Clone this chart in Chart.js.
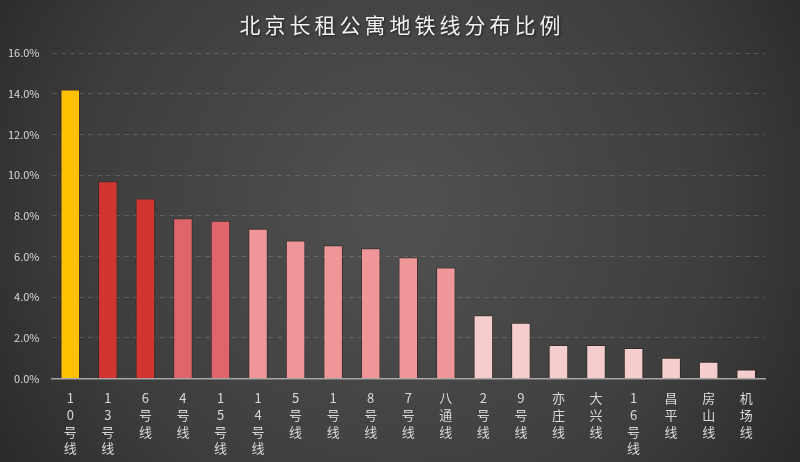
<!DOCTYPE html>
<html lang="zh-CN">
  <head>
    <meta charset="UTF-8" />
    <title>北京长租公寓地铁线分布比例</title>
    <script src="https://cdn.jsdelivr.net/npm/chart.js"></script>
    <style>
      html, body { margin: 0; padding: 0; background: #333; }
      #wrap { width: 800px; height: 462px; }
    </style>
  </head>
  <body>
    <div id="wrap"><canvas id="myChart"></canvas></div>
    <script>
      var chartTitle = "北京长租公寓地铁线分布比例";
      var lines = ["10号线", "13号线", "6号线", "4号线", "15号线", "14号线", "5号线", "1号线", "8号线", "7号线",
                   "八通线", "2号线", "9号线", "亦庄线", "大兴线", "16号线", "昌平线", "房山线", "机场线"];
      var shares = [14.2, 9.7, 8.85, 7.87, 7.75, 7.36, 6.78, 6.55, 6.4, 5.96,
                    5.45, 3.1, 2.74, 1.64, 1.64, 1.49, 1.02, 0.82, 0.44];
      var yTicks = [0, 2, 4, 6, 8, 10, 12, 14, 16];

      // 颜色按比例分档
      function barColor(v) {
        if (v >= 12) return "#FFC000";
        if (v >= 8.5) return "#D2352F";
        if (v >= 7.5) return "#E0656A";
        if (v >= 5) return "#EE9698";
        return "#F6CDCD";
      }

      // 背景 + 标题
      var backdrop = {
        id: "backdrop",
        beforeDraw: function (chart) {
          var c = chart.ctx, w = chart.width, h = chart.height;
          var g = c.createRadialGradient(400, 210, 20, 400, 210, 520);
          g.addColorStop(0, "#505050");
          g.addColorStop(0.6, "#3d3d3d");
          g.addColorStop(1, "#242424");
          c.save();
          c.fillStyle = g;
          c.fillRect(0, 0, w, h);
          c.restore();
        },
        afterDraw: function (chart) {
          var c = chart.ctx;
          c.save();
          c.letterSpacing = "4px";
          c.font = "21px 'Noto Sans CJK SC'";
          c.fillStyle = "#f2f2f2";
          c.textAlign = "center";
          c.textBaseline = "middle";
          c.shadowColor = "rgba(0,0,0,0.6)";
          c.shadowBlur = 3;
          c.shadowOffsetX = 1;
          c.shadowOffsetY = 1;
          c.fillText(chartTitle, 402, 25);
          c.restore();
        }
      };

      var ctx = document.getElementById("myChart").getContext("2d");
      new Chart(ctx, {
        type: "bar",
        data: {
          labels: lines.map(function (s) { return s.split(""); }),
          datasets: [{
            label: "比例",
            data: shares,
            backgroundColor: shares.map(barColor),
            borderColor: "rgba(40,20,20,0.45)",
            borderWidth: 1,
            barPercentage: 0.52,
            categoryPercentage: 1
          }]
        },
        options: {
          responsive: true,
          maintainAspectRatio: false,
          animation: false,
          layout: { padding: { top: 53, right: 35, left: -4, bottom: 2 } },
          plugins: { legend: { display: false }, tooltip: { enabled: false } },
          scales: {
            x: {
              grid: { display: false },
              border: { color: "#a6a6a6", width: 1.5 },
              ticks: {
                color: "#d9d9d9",
                font: { family: "'Noto Sans CJK SC'", size: 13, lineHeight: 1.3 },
                maxRotation: 0,
                autoSkip: false,
                padding: 3
              }
            },
            y: {
              min: 0,
              max: 16,
              afterBuildTicks: function (axis) {
                axis.ticks = yTicks.map(function (v) { return { value: v }; });
              },
              grid: { color: "rgba(200,200,200,0.22)", drawTicks: false },
              border: { display: false, dash: [5, 4] },
              ticks: {
                color: "#d9d9d9",
                font: { family: "'Noto Sans CJK SC'", size: 11 },
                padding: 12,
                callback: function (v) { return v.toFixed(1) + "%"; }
              }
            }
          }
        },
        plugins: [backdrop]
      });
    </script>
  </body>
</html>
